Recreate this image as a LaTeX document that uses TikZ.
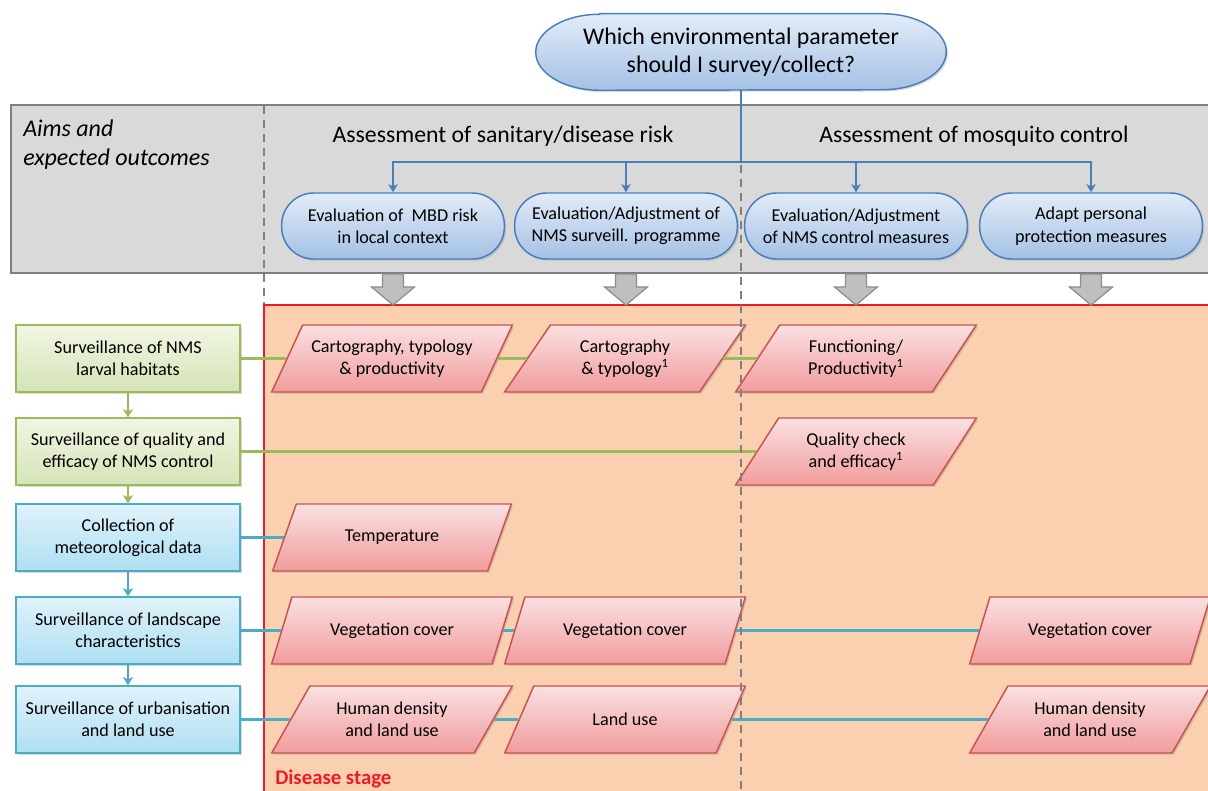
\documentclass[tikz,border=0pt]{standalone}
\usepackage{fontspec}
\setmainfont{Carlito}
\usetikzlibrary{shapes.geometric,shapes.misc,shadows,arrows.meta,calc,backgrounds}

\definecolor{grayFill}{RGB}{217,217,217}
\definecolor{grayLine}{RGB}{127,127,127}
\definecolor{peach}{RGB}{250,208,176}
\definecolor{redLine}{RGB}{236,28,36}
\definecolor{qBorder}{RGB}{74,126,187}
\definecolor{qTop}{RGB}{226,236,248}
\definecolor{qBot}{RGB}{164,193,229}
\definecolor{grnLine}{RGB}{155,187,89}
\definecolor{grnTop}{RGB}{241,246,228}
\definecolor{grnBot}{RGB}{213,227,183}
\definecolor{bluLine}{RGB}{75,172,198}
\definecolor{bluTop}{RGB}{224,242,250}
\definecolor{bluBot}{RGB}{174,223,242}
\definecolor{parLine}{RGB}{200,82,80}
\definecolor{parTop}{RGB}{250,224,225}
\definecolor{parBot}{RGB}{241,156,157}
\definecolor{arrFill}{RGB}{191,191,191}

\begin{document}
\begin{tikzpicture}[x=0.75pt,y=-0.75pt,
  txt/.style={align=center, font=\fontsize{13.6}{16.8}\selectfont, inner sep=1pt},
  shadowed/.style={drop shadow={opacity=0.3, shadow xshift=1.3pt, shadow yshift=-1.3pt}},
  gbox/.style={txt, rectangle, draw=grnLine, line width=1.1pt, top color=grnTop, bottom color=grnBot,
               minimum width=168pt, minimum height=50.25pt, shadowed},
  bbox/.style={txt, rectangle, draw=bluLine, line width=1.1pt, top color=bluTop, bottom color=bluBot,
               minimum width=168pt, minimum height=50.25pt, shadowed},
  para/.style={txt, trapezium, trapezium left angle=55, trapezium right angle=125, trapezium stretches=true,
               minimum width=180.75pt, minimum height=50.25pt, draw=parLine, line width=1.1pt,
               top color=parTop, bottom color=parBot, shadowed},
  ebox/.style={txt, rectangle, rounded corners=24pt, draw=qBorder, line width=1.1pt,
               top color=qTop, bottom color=qBot, minimum width=167pt, minimum height=49.5pt, shadowed},
  head/.style={font=\fontsize{17.8}{20}\selectfont, inner sep=0pt},
  bline/.style={draw=qBorder, line width=1.8pt},
  barrow/.style={bline, -{Stealth[length=6pt,width=7pt,inset=1.5pt]}},
  gline/.style={draw=grnLine, line width=2pt},
  cline/.style={draw=bluLine, line width=2pt},
  garrow/.style={gline, line width=2.2pt, -{Stealth[length=6pt,width=7.5pt,inset=1.5pt]}},
  carrow/.style={cline, line width=2.2pt, -{Stealth[length=6pt,width=7.5pt,inset=1.5pt]}},
  sep/.style={draw=grayLine, line width=1.3pt, dash pattern=on 6pt off 4.5pt},
  block/.style={fill=arrFill, draw=grayLine!90, line width=0.9pt}
]
\useasboundingbox (0,0) rectangle (1208,791);
\clip (0,0) rectangle (1208,791);

% disease-stage area
\fill[peach] (264,305) rectangle (1215,800);
\draw[redLine, line width=1.6pt] (264,800) -- (264,305) -- (1215,305);

% band of aims
\draw[fill=grayFill, draw=grayLine, line width=1.6pt] (11,105) rectangle (1220,273);
\draw[sep] (264,106) -- (264,304);

% question at the top
\node[txt, font=\fontsize{17.9}{21}\selectfont, minimum width=307.5pt, minimum height=57pt] (q) at (741,52)
  {Which environmental parameter\\should I survey/collect?};
\begin{scope}[on background layer]
  \draw[draw=qBorder, line width=1.1pt, top color=qTop, bottom color=qBot, shadowed]
    ([xshift=48pt]q.north west) -- ([xshift=-48pt]q.north east)
    arc[start angle=90, end angle=-90, x radius=48pt, y radius=28.5pt]
    -- ([xshift=48pt]q.south west)
    arc[start angle=-90, end angle=-270, x radius=48pt, y radius=28.5pt] -- cycle;
\end{scope}

\node[anchor=north west, align=left, font=\fontsize{18}{21.75}\selectfont\itshape, inner sep=0pt] (aims) at (23,120)
  {Aims and\\expected outcomes};
\node[head] (h1) at (503,136) {Assessment of sanitary/disease risk};
\node[head] (h2) at (974,136) {Assessment of mosquito control};

% outcomes
\node[ebox] (e1) at (393,226) {Evaluation of~ MBD risk\\in local context};
\node[ebox] (e2) at (626,226) {Evaluation/Adjustment of\\NMS surveill. programme};
\node[ebox] (e3) at (856,226) {Evaluation/Adjustment\\of NMS control measures};
\node[ebox] (e4) at (1091,226) {Adapt personal\\protection measures};

\coordinate (j) at (741,162);
\draw[bline] (q.south) -- (j);
\draw[barrow] (j) -| (e1.north);
\draw[barrow] (j) -| (e2.north);
\draw[barrow] (j) -| (e3.north);
\draw[barrow] (j) -| (e4.north);

% block arrows into the disease-stage area
\foreach \n in {e1,e2,e3,e4}{
  \draw[block] (\n.south |- 0,274) ++(-10.5,0) -- ++(21,0) -- ++(0,13) -- ++(11,0)
     -- ++(-21.5,18) -- ++(-21.5,-18) -- ++(11,0) -- cycle;
}

% surveillance activities
\node[gbox] (b1) at (128,358.5) {Surveillance of NMS\\larval habitats};
\node[gbox] (b2) at (128,451.5) {Surveillance of quality and\\efficacy of NMS control};
\node[bbox] (b3) at (128,537.5) {Collection of\\meteorological data};
\node[bbox] (b4) at (128,630.5) {Surveillance of landscape\\characteristics};
\node[bbox] (b5) at (128,719.5) {Surveillance of urbanisation\\and land use};

\draw[garrow] (b1.south) -- (b2.north);
\draw[garrow] (b2.south) -- (b3.north);
\draw[carrow] (b3.south) -- (b4.north);
\draw[carrow] (b4.south) -- (b5.north);

% parameters
\node[para] (p11) at (392,358.5) {Cartography, typology\\\& productivity};
\node[para] (p12) at (625,358.5) {Cartography\\\& typology\textsuperscript{1}};
\node[para] (p13) at (856,358.5) {Functioning/\\Productivity\textsuperscript{1}};
\node[para] (p23) at (856,451.5) {Quality check\\and efficacy\textsuperscript{1}};
\node[para] (p31) at (392,537.5) {Temperature};
\node[para] (p41) at (392,630.5) {Vegetation cover};
\node[para] (p42) at (625,630.5) {Vegetation cover};
\node[para] (p44) at (1090,630.5) {Vegetation cover};
\node[para] (p51) at (392,719.5) {Human density\\and land use};
\node[para] (p52) at (625,719.5) {Land use};
\node[para] (p54) at (1090,719.5) {Human density\\and land use};

\draw[gline] (b1.east) -- (p11.left side);
\draw[gline] (p11.right side) -- (p12.left side);
\draw[gline] (p12.right side) -- (p13.left side);
\draw[gline] (b2.east) -- (p23.left side);
\draw[cline] (b3.east) -- (p31.left side);
\draw[cline] (b4.east) -- (p41.left side);
\draw[cline] (p41.right side) -- (p42.left side);
\draw[cline] (p42.right side) -- (p44.left side);
\draw[cline] (b5.east) -- (p51.left side);
\draw[cline] (p51.right side) -- (p52.left side);
\draw[cline] (p52.right side) -- (p54.left side);

% divider between the two aims
\draw[sep] (j) ++(0,3) -- (741,795);

\node[anchor=base west, text=redLine, font=\fontsize{15.6}{18}\selectfont\bfseries, inner sep=0pt] (stage) at (275,784) {Disease stage};
\end{tikzpicture}
\end{document}
